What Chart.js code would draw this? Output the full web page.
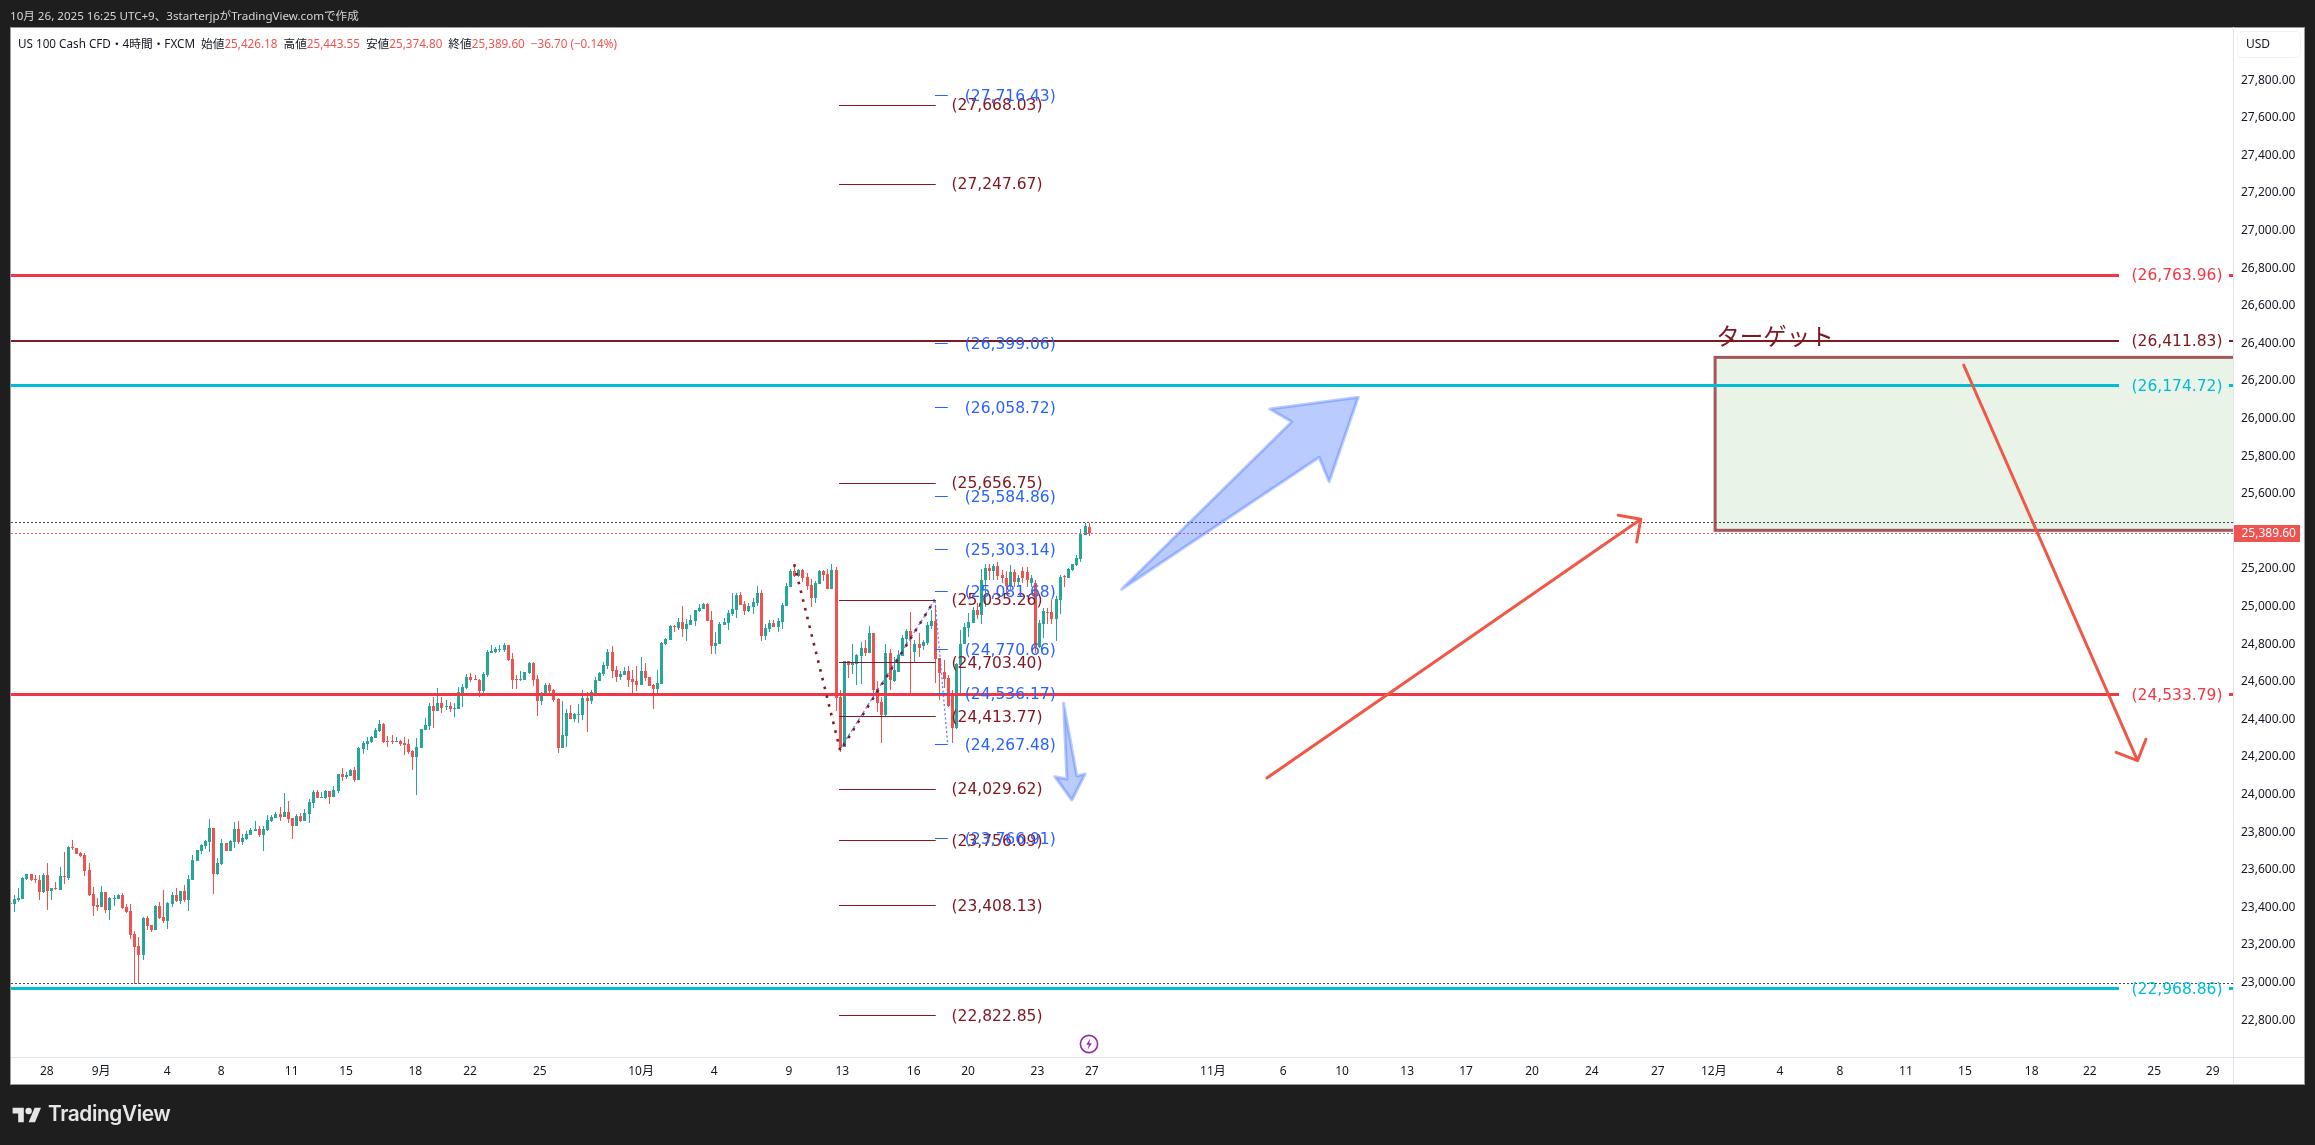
<!DOCTYPE html>
<html lang="ja">
<head>
<meta charset="utf-8">
<title>US 100 Cash CFD</title>
<script src="https://cdn.jsdelivr.net/npm/chart.js@4/dist/chart.umd.min.js"></script>
<style>
html,body{margin:0;padding:0;background:#1e1e1e;width:2315px;height:1145px;overflow:hidden}
#panel{position:absolute;left:10px;top:27px;width:2293px;height:1056px;background:#fff;border:1px solid #9a9a9a}
canvas{position:absolute;left:0;top:0}
#hdr{position:absolute;left:10px;top:7px;font:11.6px "Noto Sans","Noto Sans CJK JP",sans-serif;color:#d6d6d6;white-space:nowrap}
#leg{position:absolute;left:18px;top:34px;font:11.7px "Noto Sans","Noto Sans CJK JP",sans-serif;color:#131722;white-space:nowrap}
#leg b{font-weight:400;color:#ef5350}
#leg i{font-style:normal;margin-left:6px}
#logo{position:absolute;left:12px;top:1107px}
#tv{position:absolute;left:48px;top:1101px;font:600 20.8px Inter,"Noto Sans",sans-serif;color:#e6e6e6;letter-spacing:-.4px}
#bolt{position:absolute;left:1079px;top:1034px}
</style>
</head>
<body>
<div id="panel"></div>
<canvas id="c" width="2315" height="1145"></canvas>
<div id="hdr">10月 26, 2025 16:25 UTC+9、3starterjpがTradingView.comで作成</div>
<div id="leg">US 100 Cash CFD・4時間・FXCM<i>始値</i><b>25,426.18</b><i>高値</i><b>25,443.55</b><i>安値</i><b>25,374.80</b><i>終値</i><b>25,389.60</b><i><b>−36.70 (−0.14%)</b></i></div>
<svg id="logo" width="30" height="16" viewBox="0 0 36 20"><path fill="#e6e6e6" d="M14 19H7V8H0V1h14v18zM28 19h-8l7.5-18h8L28 19z"/><circle fill="#e6e6e6" cx="20" cy="5" r="4"/></svg>
<div id="tv">TradingView</div>
<svg id="bolt" width="20" height="20" viewBox="0 0 20 20"><circle cx="10" cy="10" r="8.6" fill="#fff" stroke="#9c27b0" stroke-width="1.6"/><path d="M11.2 4.6 7.2 10.8h2.6l-1 4.6 4-6.2h-2.6z" fill="#9c27b0"/></svg>
<script>
const opens=[23424,23418,23440,23445,23551,23578,23551,23546,23482,23573,
23488,23504,23493,23567,23557,23722,23716,23690,23679,23599,
23472,23413,23402,23482,23387,23447,23445,23466,23402,23381,
23259,23195,23147,23344,23307,23280,23408,23349,23328,23418,
23466,23434,23488,23440,23546,23647,23700,23727,23748,23823,
23578,23631,23743,23700,23748,23817,23748,23764,23785,23807,
23817,23785,23812,23860,23876,23897,23881,23908,23876,23833,
23887,23860,23897,23956,24014,23982,23982,24019,23988,24019,
24110,24094,24099,24131,24078,24243,24269,24280,24301,24338,
24376,24285,24285,24280,24285,24275,24269,24232,24200,24248,
24344,24365,24471,24445,24487,24466,24471,24455,24455,24525,
24567,24626,24615,24610,24551,24636,24753,24759,24772,24770,
24796,24722,24616,24610,24610,24648,24701,24616,24499,24536,
24584,24557,24509,24249,24312,24435,24403,24424,24424,24515,
24499,24541,24605,24642,24685,24759,24664,24626,24637,24658,
24616,24605,24584,24658,24626,24584,24562,24589,24802,24823,
24898,24887,24919,24882,24903,24924,24977,24988,25015,24929,
24791,24802,24903,24914,24961,24983,25062,25015,24977,24999,
25020,25073,24844,24882,24914,24892,24919,25004,25105,25190,
25164,25195,25158,25116,25046,25121,25190,25174,25094,25195,
24520,24254,24711,24690,24695,24738,24781,24754,24860,24562,
24493,24423,24753,24604,24652,24737,24828,24870,24759,24801,
24790,24808,24897,24923,24727,24652,24620,24535,24354,24689,
24801,24884,24913,24982,24955,25141,25204,25189,25216,25168,
25152,25110,25184,25131,25189,25186,25127,25127,24787,24907,
24973,24971,24934,25035,25161,25152,25195,25221,25253,25381,25426.18];
const highs=[23426,23466,23504,23562,23578,23578,23573,23573,23583,23637,
23504,23535,23615,23695,23727,23759,23716,23695,23690,23637,
23509,23450,23514,23482,23456,23466,23472,23477,23418,23418,
23275,23243,23349,23355,23307,23413,23429,23493,23429,23482,
23504,23488,23519,23573,23679,23706,23738,23759,23871,23823,
23663,23764,23743,23759,23855,23860,23791,23807,23823,23860,
23833,23833,23892,23892,23908,23934,24009,23966,23876,23897,
23902,23924,23977,24025,24025,24014,24025,24019,24046,24110,
24142,24120,24136,24147,24253,24285,24307,24312,24354,24397,
24381,24312,24317,24307,24291,24307,24296,24237,24301,24349,
24408,24487,24519,24567,24519,24503,24493,24487,24572,24588,
24642,24647,24636,24615,24652,24769,24796,24785,24796,24807,
24796,24754,24637,24658,24653,24706,24706,24637,24547,24594,
24594,24562,24515,24499,24456,24477,24435,24483,24557,24547,
24557,24626,24653,24706,24775,24791,24685,24658,24679,24685,
24664,24685,24733,24701,24626,24589,24664,24812,24834,24903,
24903,24940,25004,24935,24956,24983,25015,25020,25020,24977,
24866,24919,24940,24983,25073,25073,25078,25031,25020,25046,
25110,25089,24908,24929,24929,24940,25020,25126,25201,25227,
25201,25201,25179,25148,25137,25195,25195,25201,25227,25211,
24557,24711,24711,24802,24749,24812,24823,24898,24860,24604,
24521,24801,24774,24734,24769,24849,24881,24971,24822,24858,
24822,24918,24982,25008,24727,24716,24636,24556,24698,24876,
24915,24964,25000,25017,25200,25227,25227,25227,25237,25195,
25189,25221,25200,25168,25212,25212,25168,25141,24929,24991,
24991,25035,25056,25168,25168,25204,25227,25274,25411,25446,25443.55];
const lows=[23369,23376,23429,23445,23548,23541,23528,23440,23477,23387,
23440,23493,23493,23525,23546,23706,23684,23668,23567,23461,
23355,23381,23402,23371,23333,23408,23445,23392,23371,23232,
22993,22993,23121,23280,23270,23280,23339,23317,23285,23402,
23429,23418,23429,23381,23546,23647,23684,23711,23695,23472,
23573,23626,23700,23700,23716,23738,23732,23759,23785,23807,
23775,23700,23807,23855,23876,23860,23881,23849,23764,23833,
23855,23860,23849,23929,23982,23982,23977,23950,23988,24009,
24073,24083,24099,24067,24078,24216,24237,24275,24301,24333,
24275,24253,24269,24280,24259,24211,24216,24131,23998,24248,
24344,24344,24354,24445,24434,24450,24440,24413,24455,24466,
24562,24599,24610,24519,24535,24626,24753,24754,24761,24759,
24711,24562,24562,24605,24610,24642,24578,24419,24477,24536,
24536,24493,24222,24249,24254,24403,24387,24382,24398,24334,
24483,24541,24605,24632,24669,24621,24600,24610,24637,24573,
24539,24552,24584,24605,24578,24456,24539,24589,24796,24823,
24866,24876,24839,24818,24903,24898,24972,24988,24924,24749,
24749,24802,24903,24876,24951,24940,25009,24956,24972,24961,
25004,24818,24823,24866,24892,24866,24882,25004,25105,25158,
25158,25132,25089,24999,25020,25121,25137,25094,25094,24445,
24227,24254,24621,24642,24584,24589,24738,24754,24504,24439,
24274,24418,24556,24599,24652,24737,24787,24530,24705,24734,
24769,24796,24883,24592,24503,24565,24468,24274,24351,24539,
24801,24837,24913,24934,24907,25000,25141,25141,25141,25127,
25062,25088,25106,25115,25124,25106,25106,24751,24778,24831,
24907,24907,24817,24961,25106,25152,25191,25216,25237,25381,25374.80];
const closes=[23418,23445,23450,23557,23578,23546,23548,23484,23573,23488,
23504,23498,23567,23564,23722,23716,23684,23674,23594,23466,
23408,23402,23482,23387,23450,23450,23466,23397,23376,23254,
23190,23147,23344,23301,23280,23408,23344,23328,23424,23466,
23434,23488,23440,23551,23652,23706,23732,23754,23823,23578,
23637,23743,23700,23754,23817,23748,23769,23791,23812,23817,
23785,23817,23865,23881,23897,23881,23908,23871,23833,23887,
23860,23902,23961,24014,23982,23988,24019,23988,24025,24110,
24094,24104,24131,24078,24248,24275,24285,24307,24344,24376,
24280,24282,24282,24285,24269,24264,24227,24200,24253,24349,
24370,24471,24445,24487,24461,24471,24455,24461,24546,24572,
24626,24610,24610,24551,24642,24759,24764,24775,24775,24796,
24717,24610,24610,24616,24653,24701,24610,24499,24541,24584,
24552,24504,24249,24318,24435,24403,24429,24429,24515,24499,
24547,24610,24648,24690,24759,24658,24626,24642,24658,24610,
24600,24584,24658,24621,24578,24562,24594,24807,24828,24898,
24894,24919,24882,24908,24929,24983,24993,25015,24924,24791,
24807,24908,24919,24967,24988,25062,25009,24977,25004,25025,
25073,24844,24887,24914,24892,24924,25009,25110,25190,25164,
25195,25153,25110,25046,25126,25190,25169,25094,25195,24515,
24249,24711,24690,24701,24743,24781,24754,24860,24557,24487,
24423,24753,24610,24663,24743,24833,24870,24831,24801,24778,
24812,24902,24923,24721,24647,24615,24471,24354,24695,24801,
24890,24918,24982,24955,25141,25204,25191,25216,25163,25152,
25110,25184,25131,25150,25150,25141,25150,24787,24913,24977,
24968,24934,25039,25157,25156,25198,25227,25258,25386,25429,25389.60];

const timeTickPos=[8.8,21.9,37.8,50.8,67.8,80.9,97.6,110.8,127.6,152,169.6,187.6,200.5,217.7,230.8,247.5,260.6,289.8,306.7,320.9,336.6,350.8,366.7,381.1,397,410.5,426.4,440.9,456.8,471,487.1,501.1,516.6,530.7];
const timeTickLabels=["28","9月","4","8","11","15","18","22","25","10月","4","9","13","16","20","23","27","11月","6","10","13","17","20","24","27","12月","4","8","11","15","18","22","25","29"];
const priceTicks=[22800,23000,23200,23400,23600,23800,24000,24200,24400,24600,24800,25000,25200,25400,25600,25800,26000,26200,26400,26600,26800,27000,27200,27400,27600,27800];

const redLevels=[26763.96,24533.79];
const maroonLevels=[26411.83];
const cyanLevels=[26174.72,22968.86];
const fibMaroon=[27668.03,27247.67,25656.75,25035.26,24703.40,24413.77,24029.62,23756.09,23408.13,22822.85];
const fibBlue=[27716.43,26399.06,26058.72,25584.86,25303.14,25081.68,24770.66,24536.17,24267.48,23766.91];
const fibMaroonSpan=[199.7,223];
const fibBlueSpan=[222.8,225.9];
const fibMaroonLabelAt=226.8;
const fibBlueLabelAt=230;
const markerHigh=25448;
const markerLow=22993;
const lastClose=25389.60;
const targetZone={from:410.8,top:26326,bottom:25406};
const targetLabel={text:"ターゲット",at:411.1,price:26439.6};
const arrowUp=[[302.8,24088.6],[392.9,25464.6]];
const arrowDown=[[470.7,26285.3],[512.6,24180.6]];
const bigArrow=[[267.8,25092.3],[308.8,25983.7],[303.5,26051.3],[324.8,26113.5],[317.8,25664.6],[315.4,25794.4]];
const smallArrow=[[253.8,24487.5],[257,24099.2],[259,24109.9],[255.8,23971.6],[251.7,24095.5],[254.6,24083.3]];
const zigMaroon=[[188.9,25225.3],[200,24233.8],[222.8,25037]];
const zigBlue=[[200.3,24255],[222.8,25037],[225.9,24267.5]];

const X_MIN=0.17,X_MAX=535.6,Y_MIN=22604.6,Y_MAX=28077.8;
const fmt=v=>v.toLocaleString("en-US",{minimumFractionDigits:2,maximumFractionDigits:2});
const UP="#26a69a",DOWN="#ef5350";
const colors=closes.map((c,i)=>c<opens[i]?DOWN:UP);

const drawings={
 id:"drawings",
 afterDatasetsUpdate(chart){
  [0,1].forEach(d=>chart.getDatasetMeta(d).data.forEach(el=>{
   el.x=Math.floor(el.x)+0.5;
   const t=Math.round(el.y),b=Math.round(el.base);
   el.y=t;el.base=(t===b)?t+1:b;
  }));
 },
 afterDraw(chart){
  const ctx=chart.ctx,a=chart.chartArea,xs=chart.scales.x,ys=chart.scales.y;
  const px=v=>xs.getPixelForValue(v),py=v=>ys.getPixelForValue(v);
  const hline=(y,x1,x2,col,w,dash)=>{ctx.save();ctx.strokeStyle=col;ctx.lineWidth=w;ctx.setLineDash(dash||[]);ctx.beginPath();
    const yy=w%2?Math.floor(y)+.5:Math.round(y);ctx.moveTo(x1,yy);ctx.lineTo(x2,yy);ctx.stroke();ctx.restore();};
  const label=(t,x,y,col)=>{ctx.fillStyle=col;ctx.font='15.5px "DejaVu Sans"';ctx.textAlign="left";ctx.textBaseline="middle";ctx.fillText(t,x,y+1.2);};
  const poly=(pts,close)=>{ctx.beginPath();pts.forEach((p,i)=>{const X=px(p[0]),Y=py(p[1]);i?ctx.lineTo(X,Y):ctx.moveTo(X,Y);});if(close)ctx.closePath();};

  ctx.save();
  ctx.beginPath();ctx.rect(a.left,a.top,a.right-a.left,a.bottom-a.top);ctx.clip();

  const zl=px(targetZone.from),zt=py(targetZone.top),zb=py(targetZone.bottom);
  ctx.fillStyle="#e9f3e8";ctx.fillRect(zl,zt,a.right+10-zl,zb-zt);
  ctx.strokeStyle="rgba(128,25,34,.72)";ctx.lineWidth=3;ctx.strokeRect(zl,zt,a.right+10-zl,zb-zt);

  hline(py(markerHigh),a.left,a.right,"#434651",1,[2,2]);
  hline(py(markerLow),a.left,a.right,"#434651",1,[2,2]);
  hline(py(lastClose),a.left,a.right,DOWN,1,[2,2]);

  const lvlEnd=2119,stub=2229;
  const lv=(v,col,w)=>{hline(py(v),a.left,lvlEnd,col,w);hline(py(v),stub,a.right,col,w);label("("+fmt(v)+")",2131.5,py(v),col);};
  maroonLevels.forEach(v=>lv(v,"#801922",2));
  redLevels.forEach(v=>lv(v,"#f23645",3));
  cyanLevels.forEach(v=>lv(v,"#00bcd4",3));

  fibMaroon.forEach(v=>{hline(py(v),px(fibMaroonSpan[0]),px(fibMaroonSpan[1]),"#801922",1);label("("+fmt(v)+")",px(fibMaroonLabelAt),py(v),"#801922");});
  fibBlue.forEach(v=>{hline(py(v),px(fibBlueSpan[0]),px(fibBlueSpan[1]),"#2962ff",1);label("("+fmt(v)+")",px(fibBlueLabelAt),py(v),"#2962ff");});

  ctx.save();ctx.lineCap="butt";ctx.strokeStyle="rgba(41,98,255,.75)";ctx.lineWidth=1.4;ctx.setLineDash([2,2.5]);poly(zigBlue);ctx.stroke();
  ctx.strokeStyle="#801922";ctx.lineWidth=2.6;ctx.setLineDash([2.6,6.4]);poly(zigMaroon);ctx.stroke();ctx.restore();

  [bigArrow,smallArrow].forEach(s=>{poly(s,true);ctx.fillStyle="rgba(41,98,255,.33)";ctx.fill();ctx.strokeStyle="rgba(41,98,255,.33)";ctx.lineWidth=3;ctx.lineJoin="round";ctx.stroke();});

  [arrowUp,arrowDown].forEach(s=>{
   const x1=px(s[0][0]),y1=py(s[0][1]),x2=px(s[1][0]),y2=py(s[1][1]);
   const an=Math.atan2(y1-y2,x1-x2),L=23,sp=Math.PI/4;
   ctx.save();ctx.strokeStyle="#f15746";ctx.lineWidth=3;ctx.lineCap="round";ctx.lineJoin="round";
   ctx.beginPath();ctx.moveTo(x1,y1);ctx.lineTo(x2,y2);
   ctx.moveTo(x2+L*Math.cos(an-sp),y2+L*Math.sin(an-sp));ctx.lineTo(x2,y2);ctx.lineTo(x2+L*Math.cos(an+sp),y2+L*Math.sin(an+sp));
   ctx.stroke();ctx.restore();
  });

  ctx.fillStyle="#801922";ctx.font='23.5px "Noto Sans CJK JP"';ctx.textAlign="left";ctx.textBaseline="middle";
  ctx.fillText(targetLabel.text,px(targetLabel.at),py(targetLabel.price));
  ctx.restore();

  ctx.strokeStyle="#e0e3eb";ctx.lineWidth=1;ctx.setLineDash([]);
  ctx.beginPath();ctx.moveTo(a.left,a.bottom+.5);ctx.lineTo(2304,a.bottom+.5);ctx.moveTo(a.right+.5,a.top-1);ctx.lineTo(a.right+.5,1084);ctx.stroke();

  ctx.save();ctx.strokeStyle="#dcebdc";ctx.setLineDash([1,1]);ctx.beginPath();ctx.roundRect(2237.5,31.5,63,26,5);ctx.stroke();ctx.restore();
  ctx.fillStyle="#131722";ctx.font='12px "Noto Sans"';ctx.textAlign="left";ctx.textBaseline="middle";ctx.fillText("USD",2246,44.5);

  const ty=py(lastClose);
  ctx.fillStyle=DOWN;ctx.fillRect(2234,Math.round(ty)-8,66,17);
  ctx.fillStyle="#fff";ctx.font='12px "Noto Sans"';ctx.fillText(fmt(lastClose),2241.5,ty+.5);
 }
};

new Chart(document.getElementById("c"),{
 type:"bar",
 data:{datasets:[
  {data:highs.map((h,i)=>({x:i,y:[lows[i],h]})),backgroundColor:colors,barThickness:1,grouped:false,inflateAmount:0,borderWidth:0,borderSkipped:false},
  {data:opens.map((o,i)=>({x:i,y:[o,closes[i]]})),backgroundColor:colors,barThickness:3,grouped:false,inflateAmount:0,borderWidth:0,borderSkipped:false}
 ]},
 plugins:[drawings],
 options:{
  responsive:false,animation:false,events:[],
  layout:{padding:{left:11,top:28,right:11,bottom:61}},
  plugins:{legend:{display:false},tooltip:{enabled:false},title:{display:false}},
  scales:{
   x:{type:"linear",min:X_MIN,max:X_MAX,offset:false,
    grid:{display:false,drawTicks:false},border:{display:false},
    afterFit(s){s.height=27;},
    afterBuildTicks(s){s.ticks=timeTickPos.map(v=>({value:v}));},
    ticks:{autoSkip:false,maxRotation:0,minRotation:0,padding:7,color:"#131722",font:{family:'"Noto Sans","Noto Sans CJK JP"',size:12},callback:(v,i)=>timeTickLabels[i]}
   },
   y:{type:"linear",position:"right",min:Y_MIN,max:Y_MAX,
    grid:{display:false,drawTicks:false},border:{display:false},
    afterFit(s){s.width=71;},
    afterBuildTicks(s){s.ticks=priceTicks.map(v=>({value:v}));},
    ticks:{autoSkip:false,padding:8,color:"#131722",font:{family:'"Noto Sans"',size:12},callback:v=>fmt(v)}
   }
  }
 }
});
</script>
</body>
</html>
